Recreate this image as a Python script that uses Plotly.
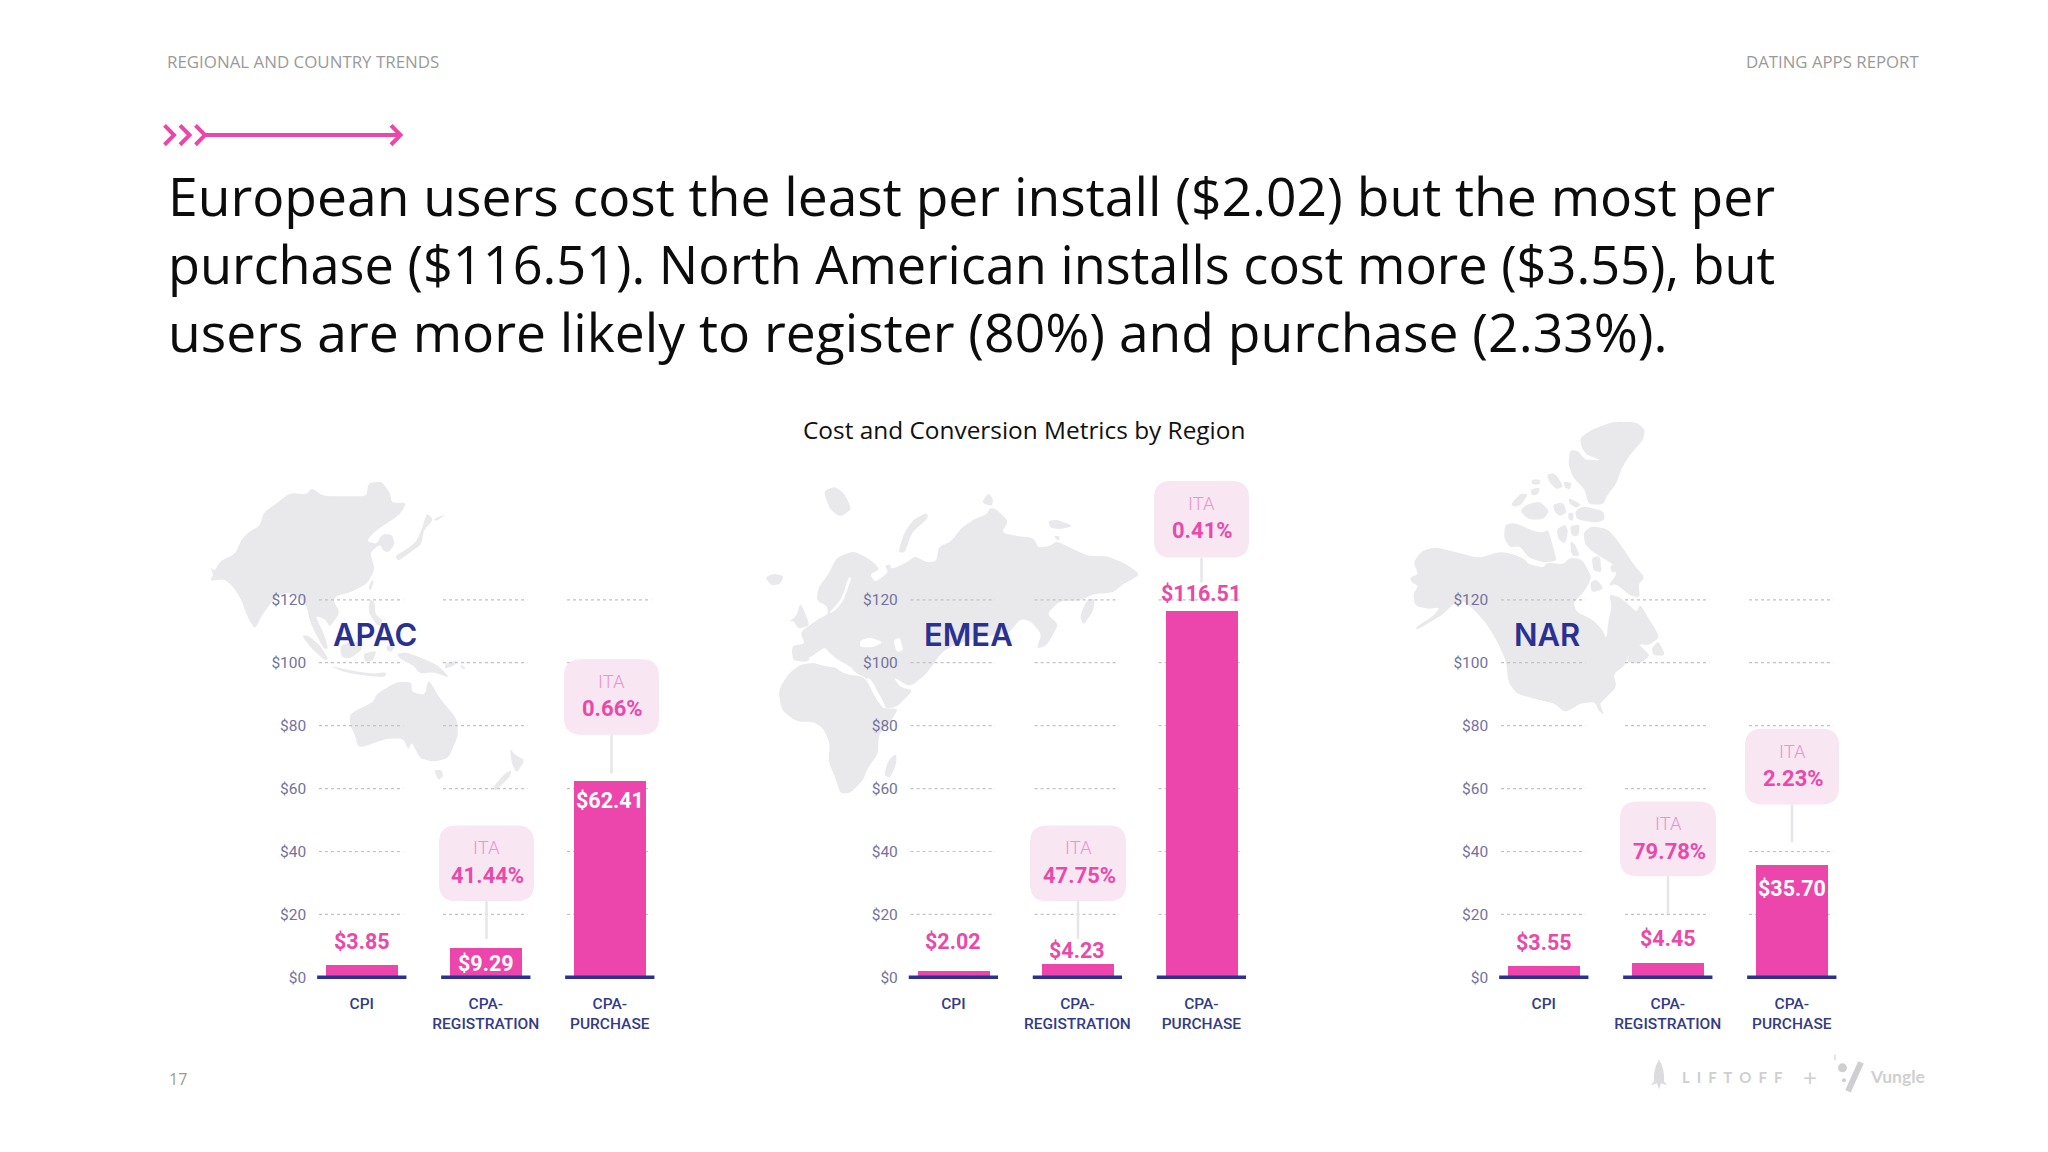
import plotly.graph_objects as go
from plotly.subplots import make_subplots

regions = ["APAC", "EMEA", "NAR"]
categories = ["CPI", "CPA-<br>REGISTRATION", "CPA-<br>PURCHASE"]
apac_cost = [3.85, 9.29, 62.41]
emea_cost = [2.02, 4.23, 116.51]
nar_cost = [3.55, 4.45, 35.70]
apac_ita = ["41.44%", "0.66%"]
emea_ita = ["47.75%", "0.41%"]
nar_ita = ["79.78%", "2.23%"]
y_ticks = [0, 20, 40, 60, 80, 100, 120]
y_labels = ["$0", "$20", "$40", "$60", "$80", "$100", "$120"]

title_lines = [
    "European users cost the least per install ($2.02) but the most per",
    "purchase ($116.51). North American installs cost more ($3.55), but",
    "users are more likely to register (80%) and purchase (2.33%).",
]
title_sizes = [53.4, 52.3, 53.4]

PINK = "#ec45ac"
PINK_TEXT = "#e84aa9"
NAVY = "#2b3190"
MAP_GREY = "#e9e9eb"
W, H = 2048, 1152
UNIT = 124.0      # pixels per category
PX_PER_USD = 3.16
Y0 = 981.6        # pixel row of $0
FONT = "Open Sans"
FONT2 = "Roboto"

apac_map = [
    [(30,285),(45,295),(60,265),(105,245),(125,200),(150,175),(180,160),(190,120),(225,95),(270,60),(320,65),(335,45),(370,70),(440,70),(500,70),(505,30),(545,25),(570,60),(575,90),(620,90),(600,125),(555,155),(520,180),(500,205),(530,215),(545,185),(575,185),(585,215),(565,240),(550,235),(540,215),(510,240),(525,290),(500,335),(450,360),(410,370),(400,385),(420,420),(390,465),(375,440),(345,430),(370,480),(385,530),(370,530),(330,450),(320,400),(295,370),(260,360),(225,375),(185,430),(165,470),(145,440),(125,385),(105,350),(75,320),(30,325),(40,305)],
    [(680,120),(700,140),(670,175),(665,215),(630,240),(595,265),(585,250),(620,230),(650,205),(665,170)],
    [(700,140),(740,122),(710,145)],
    [(515,325),(522,325),(512,355),(505,345)],
    [(510,380),(525,390),(525,425),(550,445),(535,465),(505,420)],
    [(305,490),(325,490),(360,520),(385,560),(375,565),(335,530)],
    [(390,580),(450,595),(520,605),(560,600),(555,615),(500,612),(430,600)],
    [(420,520),(470,505),(490,530),(450,560),(425,555)],
    [(490,545),(530,535),(520,565),(495,570)],
    [(560,520),(585,520),(575,540),(560,535)],
    [(590,545),(620,540),(670,560),(715,580),(750,618),(700,600),(660,605),(640,580),(600,560)],
    [(735,575),(770,565),(765,580),(735,590)],
    [(780,575),(800,590),(785,590)],
    [(450,725),(520,690),(530,665),(590,630),(635,630),(635,660),(675,670),(685,620),(720,680),(770,740),(775,790),(745,860),(700,870),(660,860),(635,810),(625,835),(610,800),(560,800),(475,830),(465,790),(450,760)],
    [(702,895),(725,895),(730,915),(715,925)],
    [(930,830),(945,850),(975,865),(950,905),(935,875)],
    [(935,895),(930,915),(885,960),(880,945),(915,905)],
]
emea_map = [
    [(95,520),(100,505),(135,500),(120,465),(175,425),(205,410),(200,385),(170,370),(175,330),(205,290),(230,240),(280,220),(330,245),(360,275),(330,290),(345,315),(385,285),(375,265),(390,260),(395,275),(440,255),(465,235),(500,255),(530,250),(535,210),(575,190),(600,155),(640,125),(680,110),(690,90),(710,95),(745,130),(725,165),(770,175),(820,180),(835,210),(870,205),(890,190),(940,215),(985,235),(1040,235),(1100,260),(1140,290),(1110,310),(1090,320),(1060,345),(1000,350),(960,370),(900,370),(860,410),(895,440),(880,470),(860,505),(830,515),(845,470),(810,430),(780,425),(745,470),(690,475),(590,500),(545,525),(500,590),(450,630),(400,600),(420,630),(458,640),(440,660),(410,690),(375,695),(340,630),(315,600),(290,590),(265,565),(245,555),(215,535),(195,510),(165,530),(140,555),(100,550)],
    [(55,640),(85,590),(125,560),(205,555),(250,590),(315,600),(345,660),(370,695),(415,695),(395,730),(355,775),(355,830),(320,880),(310,910),(270,950),(240,950),(225,900),(205,855),(210,800),(190,755),(160,735),(110,735),(65,700)],
    [(385,850),(410,830),(408,865),(390,905),(372,895)],
    [(15,300),(40,288),(72,295),(60,320),(35,325)],
    [(85,435),(110,415),(120,378),(130,395),(150,445),(115,455),(100,430)],
    [(500,105),(505,120),(455,165),(435,225),(415,225),(430,170),(460,125)],
    [(190,40),(225,25),(255,50),(275,95),(240,118),(210,95)],
    [(665,75),(685,45),(700,65),(695,85)],
    [(865,130),(890,125),(940,145),(900,155),(870,150)],
    [(880,175),(900,175),(895,190)],
    [(985,365),(1005,365),(1000,400),(970,445),(960,415),(975,380)],
]
emea_seas = [
    [(300,490),(330,480),(370,495),(340,510),(300,510)],
    [(400,490),(420,480),(430,520),(410,525)],
    [(265,300),(275,300),(250,370),(225,400),(205,410),(245,365)],
    [(145,540),(200,520),(235,550),(290,580),(205,570),(150,555)],
    [(318,600),(335,610),(378,690),(370,695),(345,660)],
    [(400,600),(420,620),(458,635),(425,625)],
]
nar_map = [
    [(40,465),(65,430),(105,418),(175,435),(235,452),(300,432),(340,440),(375,455),(385,470),(430,480),(440,465),(490,470),(510,450),(545,455),(560,480),(575,510),(555,550),(520,585),(530,615),(575,635),(605,665),(620,695),(625,640),(635,600),(628,560),(660,570),(690,595),(710,615),(720,590),(750,640),(780,690),(745,715),(720,710),(685,745),(675,775),(640,800),(650,840),(610,880),(600,890),(612,925),(595,910),(585,885),(540,890),(495,918),(465,890),(400,875),(350,860),(325,825),(318,760),(290,700),(260,650),(225,610),(190,580),(160,590),(130,620),(90,645),(50,668),(48,660),(100,625),(120,600),(85,605),(45,595),(40,560),(55,535),(35,525),(30,510),(55,500)],
    [(690,735),(715,710),(735,730),(750,745),(720,770),(680,765)],
    [(755,725),(775,700),(797,745),(760,745)],
    [(550,375),(575,355),(625,365),(665,415),(700,470),(735,510),(715,530),(720,570),(690,565),(650,530),(625,535),(650,500),(640,470),(605,450),(575,430),(555,410)],
    [(570,525),(590,515),(612,545),(575,555)],
    [(575,450),(600,445),(605,495),(580,490)],
    [(630,475),(650,470),(648,495),(635,495)],
    [(540,90),(575,65),(640,40),(710,42),(735,65),(730,95),(690,140),(665,180),(650,225),(620,265),(610,290),(565,290),(555,245),(520,210),(505,170),(510,125),(535,130),(555,155),(605,157),(560,140),(545,120)],
    [(550,295),(610,310),(615,335),(590,345),(530,335),(525,310)],
    [(332,290),(360,258),(385,258),(365,290),(345,297)],
    [(360,310),(380,290),(420,280),(448,310),(430,335),(385,335)],
    [(395,215),(420,215),(420,230),(395,230)],
    [(392,245),(420,238),(415,260),(395,262)],
    [(440,200),(465,195),(490,235),(470,245),(450,225)],
    [(490,220),(515,225),(510,245),(495,240)],
    [(458,290),(490,283),(500,315),(480,325),(465,315)],
    [(505,270),(545,290),(530,300),(510,290)],
    [(505,315),(520,315),(520,340),(505,335)],
    [(315,350),(345,345),(400,370),(430,375),(445,365),(465,440),(470,460),(430,465),(385,450),(360,415),(330,420),(312,390)],
    [(470,365),(495,350),(505,370),(495,410),(475,395)],
    [(510,355),(540,350),(535,385),(515,385)],
    [(510,400),(525,410),(540,445),(515,445)],
]


def px(x):
    return x / W


def py(y):
    return 1 - y / H


def polygon(points, crop_x, crop_y, k=3, t=0.3):
    # outline with the corners cut a little so it doesn't look faceted
    c = [(px(crop_x + a / k), py(crop_y + b / k)) for a, b in points]
    n = len(c)
    path = ""
    for i in range(n):
        a, b, d = c[i - 1], c[i], c[(i + 1) % n]
        start = (b[0] + (a[0] - b[0]) * t, b[1] + (a[1] - b[1]) * t)
        end = (b[0] + (d[0] - b[0]) * t, b[1] + (d[1] - b[1]) * t)
        path += ("M " if i == 0 else " L ") + f"{start[0]:.5f},{start[1]:.5f}"
        path += f" Q {b[0]:.5f},{b[1]:.5f} {end[0]:.5f},{end[1]:.5f}"
    return path + " Z"


def rounded(x0, y0, x1, y1, r=17):
    # rounded box in page pixels
    pts = f"M {px(x0 + r)},{py(y0)} L {px(x1 - r)},{py(y0)} Q {px(x1)},{py(y0)} {px(x1)},{py(y0 + r)} "
    pts += f"L {px(x1)},{py(y1 - r)} Q {px(x1)},{py(y1)} {px(x1 - r)},{py(y1)} "
    pts += f"L {px(x0 + r)},{py(y1)} Q {px(x0)},{py(y1)} {px(x0)},{py(y1 - r)} "
    pts += f"L {px(x0)},{py(y0 + r)} Q {px(x0)},{py(y0)} {px(x0 + r)},{py(y0)} Z"
    return pts


def note(x, y, text, size, color, anchor="center", family=FONT, weight=None):
    fig.add_annotation(x=px(x), y=py(y), xref="paper", yref="paper", text=text, showarrow=False,
                       xanchor=anchor, yanchor="middle",
                       font=dict(family=family, size=size, color=color, weight=weight))


def line(x0, y0, x1, y1, color, width):
    fig.add_shape(type="line", xref="paper", yref="paper", x0=px(x0), y0=py(y0), x1=px(x1), y1=py(y1),
                  line=dict(color=color, width=width), layer="above")


fig = make_subplots(rows=1, cols=3)

panels = [
    dict(name="APAC", cost=apac_cost, ita=apac_ita, c0=361.8, title_x=374.6, outline=apac_map, seas=[], crop=(200, 475),
         shifts=[24, -15.5, -20],
         colors=[PINK_TEXT, "white", "white"],
         boxes=[(439, 829, 534, 905, 943), (564, 662, 659, 738, 777)]),
    dict(name="EMEA", cost=emea_cost, ita=emea_ita, c0=953.4, title_x=968, outline=emea_map, seas=emea_seas, crop=(760, 480),
         shifts=[29.5, 14, 17.5],
         colors=[PINK_TEXT, PINK_TEXT, PINK_TEXT],
         boxes=[(1030, 829, 1126, 905, 943), (1154, 483, 1249, 560, 585)]),
    dict(name="NAR", cost=nar_cost, ita=nar_ita, c0=1543.8, title_x=1547, outline=nar_map, seas=[], crop=(1400, 410),
         shifts=[24, 25, -23],
         colors=[PINK_TEXT, PINK_TEXT, "white"],
         boxes=[(1620, 805, 1716, 880, 918), (1745, 732, 1839, 808, 846)]),
]

for i, p in enumerate(panels, start=1):
    # maps sit under everything
    for poly in p["outline"]:
        fig.add_shape(type="path", xref="paper", yref="paper", path=polygon(poly, *p["crop"]),
                      fillcolor=MAP_GREY, line=dict(width=0), layer="below")
    for poly in p["seas"]:
        fig.add_shape(type="path", xref="paper", yref="paper", path=polygon(poly, *p["crop"]),
                      fillcolor="white", line=dict(width=0), layer="below")

    fig.add_trace(go.Bar(x=[0, 1, 2], y=p["cost"], width=0.58, marker=dict(color=PINK, line=dict(width=0)),
                         showlegend=False, hoverinfo="skip"), row=1, col=i)

    left = p["c0"] - 0.44 * UNIT
    right = p["c0"] + 2.5 * UNIT
    ax = "" if i == 1 else str(i)
    fig.update_layout({
        f"xaxis{ax}": dict(domain=[px(left), px(right)], range=[-0.44, 2.5], tickmode="array", tickvals=[0, 1, 2],
                           ticktext=categories, showgrid=False, zeroline=False, showline=False,
                           ticks="outside", ticklen=7, tickcolor="rgba(0,0,0,0)",
                           tickfont=dict(family=FONT2, size=15.5, color="#333b88", weight=500)),
        f"yaxis{ax}": dict(domain=[py(Y0 + 1.5 * PX_PER_USD), py(Y0 - 125 * PX_PER_USD)], range=[-1.5, 125],
                           tickmode="array", tickvals=y_ticks, ticktext=y_labels, showgrid=False, zeroline=False,
                           showline=False, ticks="", tickfont=dict(family=FONT2, size=15.5, color="#73729f")),
    })

    # dotted grid broken up per category, plus the navy base under each bar
    for cat in range(3):
        for t in y_ticks[1:]:
            fig.add_shape(type="line", xref=f"x{ax}", yref=f"y{ax}", x0=cat - 0.345, x1=cat + 0.335, y0=t, y1=t,
                          line=dict(color="#c2c2c8", width=1.2, dash="dot"), layer="below")
        fig.add_shape(type="line", xref=f"x{ax}", yref=f"y{ax}", x0=cat - 0.36, x1=cat + 0.36, y0=0, y1=0,
                      line=dict(color=NAVY, width=3.5), layer="above")

    for cat, (val, shift, col) in enumerate(zip(p["cost"], p["shifts"], p["colors"])):
        fig.add_annotation(x=cat, y=val, xref=f"x{ax}", yref=f"y{ax}", text=f"${val:.2f}", showarrow=False,
                           yshift=shift, yanchor="middle",
                           font=dict(family=FONT2, size=21.5, color=col, weight=700))

    note(p["title_x"], 637, p["name"], 31, NAVY, family="Inter", weight=600)

    # ITA call-outs
    for box, ita in zip(p["boxes"], p["ita"]):
        x0, y0, x1, y1, tail = box
        mid = (x0 + x1) / 2
        line(mid, y1, mid, tail, "#e6e6e9", 2.5)
        fig.add_shape(type="path", xref="paper", yref="paper", path=rounded(x0, y0, x1, y1),
                      fillcolor="#f9e6f3", line=dict(width=0), layer="above")
        note(mid, y0 + 23, "ITA", 18.5, "#ea93cc", family=FONT2, weight=300)
        note(mid + 1, y0 + 50, ita, 22, PINK_TEXT, family=FONT2, weight=700)

for i, (text, size) in enumerate(zip(title_lines, title_sizes)):
    note(166, 196 + 68.3 * i, text, size, "#0c0c0c", anchor="left")

note(1024, 431, "Cost and Conversion Metrics by Region", 24.4, "#111111")
note(165, 62, "REGIONAL AND COUNTRY TRENDS", 16.9, "#9a9a9a", anchor="left")
note(1921, 62, "DATING APPS REPORT", 16.8, "#9a9a9a", anchor="right")
note(167, 1084, "17", 16, "#9a9a9a", anchor="left")

# arrow above the headline
line(205, 135.7, 399, 135.7, PINK, 4)
for tip in (174, 189.5, 205, 400.5):
    fig.add_shape(type="path", xref="paper", yref="paper", line=dict(color=PINK, width=4), layer="above",
                  path=f"M {px(tip - 9.5)},{py(126)} L {px(tip)},{py(135.7)} L {px(tip - 9.5)},{py(145.4)}")

# footer logos
LOGO = "#cfcfd2"
nb = "\u00a0\u00a0"
note(1732, 1082, nb.join("LIFTOFF"), 15, LOGO, family="Lato", weight=700)
note(1810, 1081, "+", 24, LOGO, family="Lato")
note(1897, 1081, "Vungle", 17.5, LOGO, family="Lato", weight=700)
line(1861, 1067, 1848, 1096, LOGO, 6)
line(1835, 1059, 1835, 1065, LOGO, 1)
fig.add_shape(type="circle", xref="paper", yref="paper", x0=px(1838), x1=px(1847), y0=py(1068), y1=py(1077),
              fillcolor=LOGO, line=dict(width=0))
fig.add_shape(type="circle", xref="paper", yref="paper", x0=px(1842), x1=px(1846), y0=py(1083), y1=py(1087),
              fillcolor=LOGO, line=dict(width=0))
fig.add_shape(type="path", xref="paper", yref="paper", fillcolor="#dcdcde", line=dict(width=0),
              path=f"M {px(1659)},{py(1064)} Q {px(1665)},{py(1074)} {px(1664)},{py(1086)} L {px(1667)},{py(1090)} "
                   f"L {px(1661)},{py(1088)} L {px(1659)},{py(1094)} L {px(1657)},{py(1088)} L {px(1651)},{py(1090)} "
                   f"L {px(1654)},{py(1086)} Q {px(1653)},{py(1074)} {px(1659)},{py(1064)} Z")

fig.update_layout(width=W, height=H, margin=dict(l=0, r=0, t=0, b=0), paper_bgcolor="white", plot_bgcolor="rgba(0,0,0,0)",
                  bargap=0, showlegend=False, font=dict(family=FONT))

fig.write_html("out.html", post_script="document.body.style.margin='0';", config={"displayModeBar": False})
